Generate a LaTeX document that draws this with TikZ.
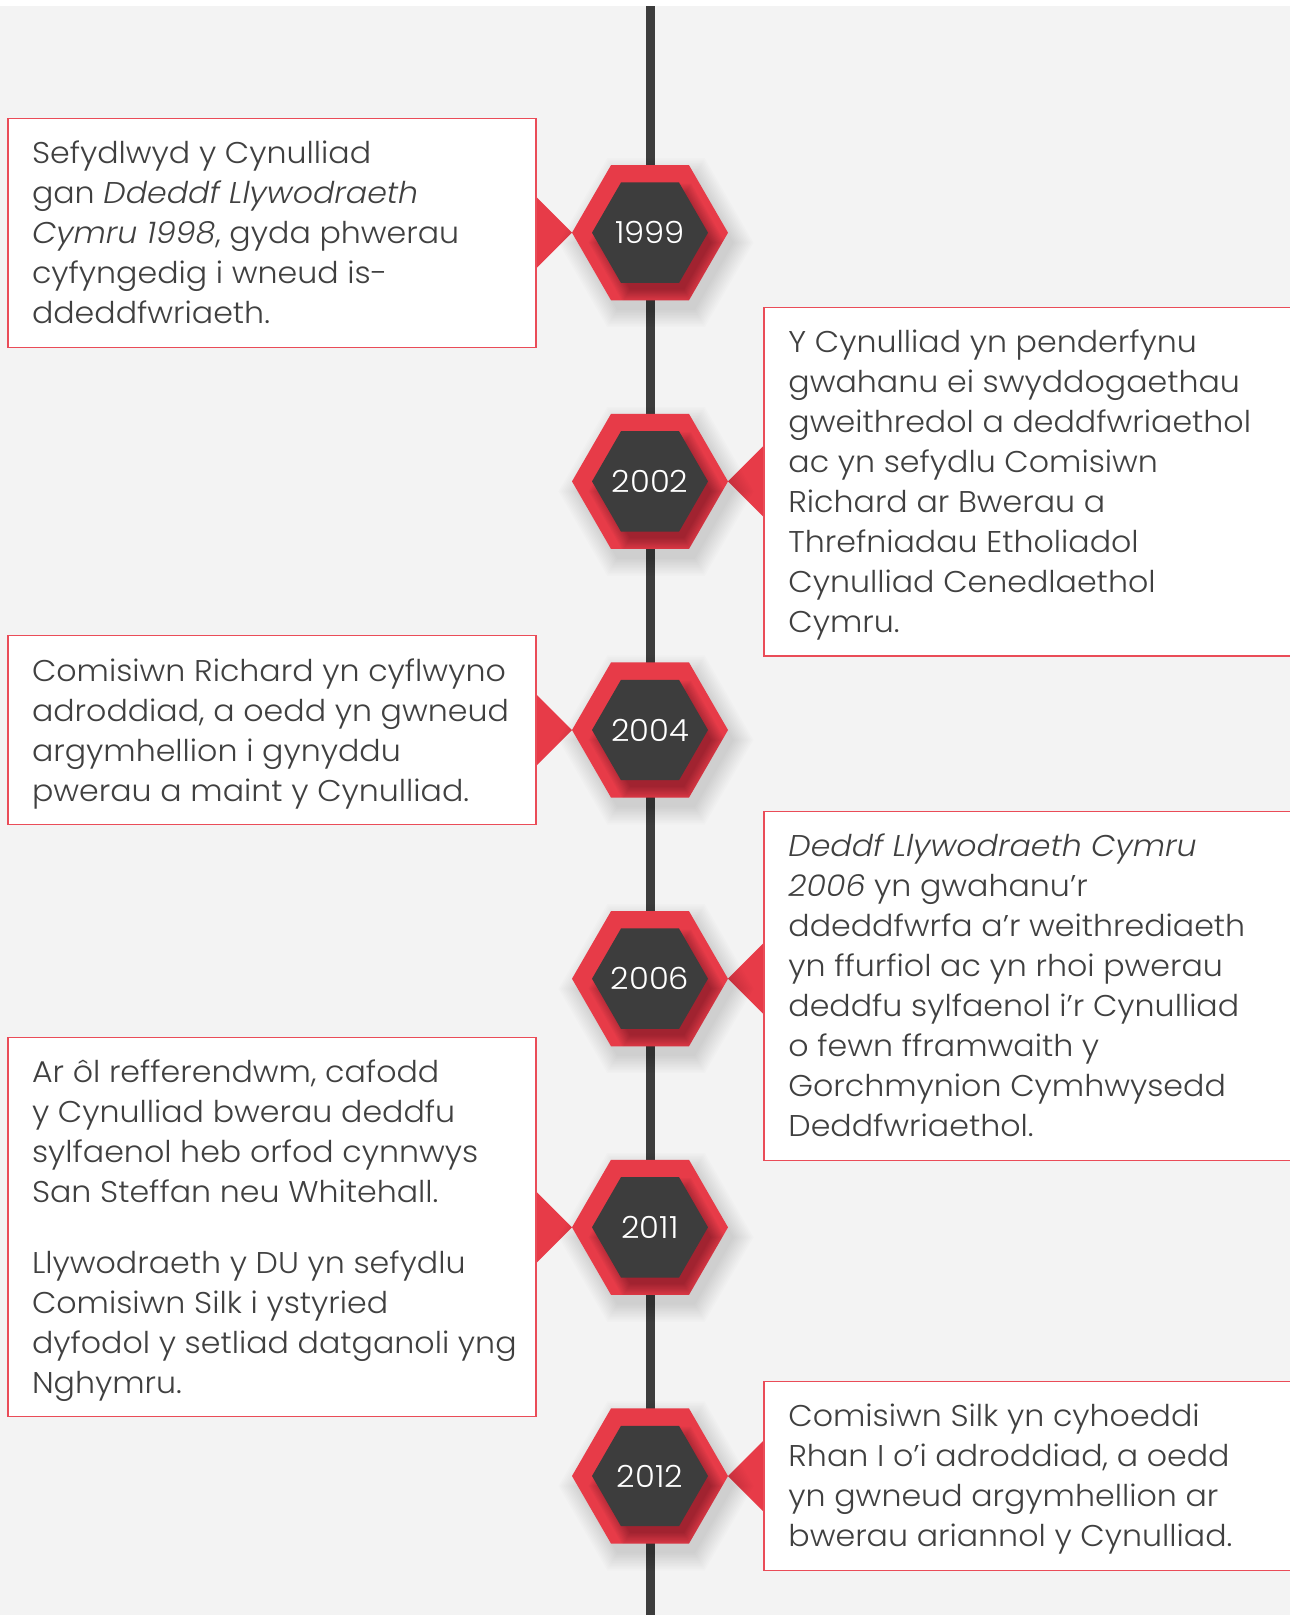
\documentclass[tikz,border=0pt]{standalone}
\usepackage{fontspec}
\IfFontExistsTF{Poppins Light}{%
  \IfFontExistsTF{Poppins Light Italic}{%
    \setmainfont{Poppins Light}[ItalicFont={Poppins Light Italic}, FakeStretch=1.055]}{%
    \setmainfont{Poppins Light}[FakeStretch=1.055]}}{%
  \setmainfont{Poppins}[FakeStretch=1.05]}
\definecolor{bg}{HTML}{F3F3F3}
\definecolor{hexred}{HTML}{E73B48}
\definecolor{hexdark}{HTML}{3D3D3D}
\definecolor{txt}{HTML}{404040}
\definecolor{boxline}{HTML}{EA4C58}
\definecolor{spine}{HTML}{3C3C3C}
\tikzset{
  txtnode/.style={inner sep=0pt, outer sep=0pt, anchor=base west, text=txt},
  yearlbl/.style={inner sep=0pt, text=white, font=\fontsize{30.5}{36}\selectfont},
  boxstyle/.style={draw=boxline, line width=1.3pt},
  pointer/.style={fill=hexred},
}
\newcommand{\hexat}[4]{%
  \fill[#4, shift={(#1,#2)}] (0:#3) -- (60:#3) -- (120:#3) -- (180:#3) -- (240:#3) -- (300:#3) -- cycle;}
\newcommand{\yearhex}[3]{%
  \foreach \k in {1,...,12}{\hexat{656}{#1+10}{76+\k*1.8}{black, opacity=0.011}}
  \hexat{650}{#1}{78}{hexred}
  \begin{scope}
    \clip[shift={(650,#1)}] (0:78) -- (60:78) -- (120:78) -- (180:78) -- (240:78) -- (300:78) -- cycle;
    \foreach \k in {0,...,11}{\hexat{657}{#1+10}{54+\k*1.3}{black, opacity=0.027}}
  \end{scope}
  \hexat{650}{#1}{58}{hexdark}
  \node[yearlbl] (#3) at (650,#1) {#2};
}
\newcommand{\txtblock}[1]{\parbox[t]{640pt}{\fontsize{30}{40}\selectfont\raggedright #1}}
\begin{document}
\begin{tikzpicture}[x=1pt, y=-1pt]
\useasboundingbox (0,0) rectangle (1290,1615);
\fill[white] (0,0) rectangle (1290,1615);
\fill[bg] (0,6) rectangle (1290,1615);
% spine
\coordinate (spinetop) at (650,6);
\coordinate (spinebot) at (650,1615);
\draw[spine, line width=9pt] (spinetop) -- (spinebot);

% pointers
\fill[pointer] (536,196.7) -- (572,232.7) -- (536,268.7) -- cycle;
\fill[pointer] (764,445.4) -- (728,481.4) -- (764,517.4) -- cycle;
\fill[pointer] (536,694.0) -- (572,730.0) -- (536,766.0) -- cycle;
\fill[pointer] (764,942.7) -- (728,978.7) -- (764,1014.7) -- cycle;
\fill[pointer] (536,1191.3) -- (572,1227.3) -- (536,1263.3) -- cycle;
\fill[pointer] (764,1440.0) -- (728,1476.0) -- (764,1512.0) -- cycle;

% boxes left
\filldraw[boxstyle, fill=white] (8,118.3) rectangle (536,347.3);
\filldraw[boxstyle, fill=white] (8,635.7) rectangle (536,824.3);
\filldraw[boxstyle, fill=white] (8,1037.3) rectangle (536,1416.7);
% boxes right
\fill[white] (764,307.3) rectangle (1292,656);
\draw[boxstyle] (1292,307.3) -- (764,307.3) -- (764,656) -- (1292,656);
\fill[white] (764,811.7) rectangle (1292,1160.7);
\draw[boxstyle] (1292,811.7) -- (764,811.7) -- (764,1160.7) -- (1292,1160.7);
\fill[white] (764,1381.7) rectangle (1292,1570.3);
\draw[boxstyle] (1292,1381.7) -- (764,1381.7) -- (764,1570.3) -- (1292,1570.3);

% hexagons
\yearhex{232.7}{1999}{y1999}
\yearhex{481.4}{2002}{y2002}
\yearhex{730.0}{2004}{y2004}
\yearhex{978.7}{2006}{y2006}
\yearhex{1227.3}{2011}{y2011}
\yearhex{1476.0}{2012}{y2012}

% texts
\node[txtnode] (t1) at (32,163.3) {\txtblock{Sefydlwyd y Cynulliad\\
gan \textit{Ddeddf Llywodraeth}\\
\textit{Cymru 1998}, gyda phwerau\\
cyfyngedig i wneud is-\\
ddeddfwriaeth.}};
\node[txtnode] (t2) at (788.4,352.3) {\txtblock{Y Cynulliad yn penderfynu\\
gwahanu ei swyddogaethau\\
gweithredol a deddfwriaethol\\
ac yn sefydlu Comisiwn\\
Richard ar Bwerau a\\
Threfniadau Etholiadol\\
Cynulliad Cenedlaethol\\
Cymru.}};
\node[txtnode] (t3) at (32,681) {\txtblock{Comisiwn Richard yn cyflwyno\\
adroddiad, a oedd yn gwneud\\
argymhellion i gynyddu\\
pwerau a maint y Cynulliad.}};
\node[txtnode] (t4) at (788.4,856.7) {\txtblock{\textit{Deddf Llywodraeth Cymru}\\
\textit{2006} yn gwahanu’r\\
ddeddfwrfa a’r weithrediaeth\\
yn ffurfiol ac yn rhoi pwerau\\
deddfu sylfaenol i’r Cynulliad\\
o fewn fframwaith y\\
Gorchmynion Cymhwysedd\\
Deddfwriaethol.}};
\node[txtnode] (t5) at (32,1082.3) {\txtblock{Ar ôl refferendwm, cafodd\\
y Cynulliad bwerau deddfu\\
sylfaenol heb orfod cynnwys\\
San Steffan neu Whitehall.\\[31.6pt]
Llywodraeth y DU yn sefydlu\\
Comisiwn Silk i ystyried\\
dyfodol y setliad datganoli yng\\
Nghymru.}};
\node[txtnode] (t6) at (788.4,1426.7) {\txtblock{Comisiwn Silk yn cyhoeddi\\
Rhan I o’i adroddiad, a oedd\\
yn gwneud argymhellion ar\\
bwerau ariannol y Cynulliad.}};
\end{tikzpicture}
\end{document}
